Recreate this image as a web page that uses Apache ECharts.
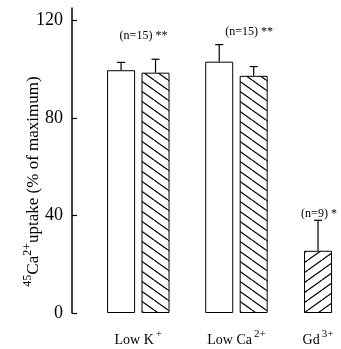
<!DOCTYPE html>
<html>
<head>
<meta charset="utf-8">
<script src="https://cdn.jsdelivr.net/npm/echarts@6/dist/echarts.min.js"></script>
<style>html,body{margin:0;padding:0;background:#fff}#c{width:341px;height:349px}</style>
</head>
<body>
<div id="c"></div>
<script>
// ---- data ----
var categories = ['Low K', 'Low Ca', 'Gd'];
var catSup = ['+', '2+', '3+'];
var controlValues = [99.5, 103, null];
var controlErr = [3.2, 7];
var treatValues = [98.5, 97.2, 25.5];
var treatErr = [5.5, 3.8, 12.5];
var notes = ['(n=15) **', '(n=15) **', '(n=9) *'];
var yTicks = [0, 40, 80, 120];

// ---- layout (axis positions of groups) ----
var groupX = [2.04, 5.06, 7.57];
var pairOff = 0.53;
var noteY = [113.5, 115.2, 40.5];
var noteX = [2.2, 5.45, 7.6];

function hatch(dir) {
  var W = 14, H = 10;
  var c = document.createElement('canvas');
  c.width = W; c.height = H;
  var g = c.getContext('2d');
  g.fillStyle = '#fff'; g.fillRect(0, 0, W, H);
  g.strokeStyle = '#000'; g.lineWidth = 1.2;
  for (var k = -1; k <= 1; k++) {
    g.beginPath();
    if (dir === 'back') { g.moveTo(k * W, 0); g.lineTo(k * W + W, H); }
    else { g.moveTo(k * W, H); g.lineTo(k * W + W, 0); }
    g.stroke();
  }
  return { image: c, repeat: 'repeat' };
}
var backHatch = hatch('back');
var fwdHatch = hatch('fwd');

var barItems = [], errItems = [];
for (var i = 0; i < categories.length; i++) {
  var single = controlValues[i] == null;
  if (!single) {
    barItems.push({ value: [groupX[i] - pairOff, controlValues[i]], itemStyle: { color: '#fff' } });
    errItems.push([groupX[i] - pairOff, controlValues[i], controlErr[i]]);
    barItems.push({ value: [groupX[i] + pairOff, treatValues[i]], itemStyle: { color: backHatch } });
    errItems.push([groupX[i] + pairOff, treatValues[i], treatErr[i]]);
  } else {
    barItems.push({ value: [groupX[i], treatValues[i]], itemStyle: { color: fwdHatch } });
    errItems.push([groupX[i], treatValues[i], treatErr[i]]);
  }
}
var noteItems = notes.map(function (t, i) { return [noteX[i], noteY[i], t]; });

var serif = '"Liberation Serif", "Times New Roman", serif';
var chart = echarts.init(document.getElementById('c'), null, { renderer: 'canvas' });
chart.setOption({
  animation: false,
  backgroundColor: '#fff',
  grid: { left: 72, right: 9, top: 8, bottom: 36, containLabel: false },
  xAxis: {
    type: 'value', min: 0, max: 8,
    axisLine: { show: false }, axisTick: { show: false }, splitLine: { show: false },
    axisLabel: {
      customValues: groupX,
      margin: 18,
      formatter: function (v) {
        var idx = groupX.indexOf(v);
        if (idx < 0) return '';
        return '{t|' + categories[idx] + '}{s|' + catSup[idx] + '}';
      },
      rich: {
        t: { fontFamily: serif, fontSize: 14, color: '#000', verticalAlign: 'bottom', lineHeight: 16 },
        s: { fontFamily: serif, fontSize: 11, color: '#000', verticalAlign: 'bottom', lineHeight: 16, padding: [0, 0, 7, 2] }
      }
    }
  },
  yAxis: {
    type: 'value', min: 0, max: 125,
    name: '{s|45}{b|Ca}{s|2+}{b|uptake (% of maximum)}',
    nameLocation: 'middle', nameGap: 30, nameRotate: 90,
    nameMoveOverlap: false,
    nameTextStyle: {
      padding: [0, 42, 0, 0],
      rich: {
        b: { fontFamily: serif, fontSize: 17, color: '#000', verticalAlign: 'bottom', lineHeight: 20 },
        s: { fontFamily: serif, fontSize: 12, color: '#000', verticalAlign: 'bottom', lineHeight: 20, padding: [0, 0, 8, 0] }
      }
    },
    axisLine: { show: true, lineStyle: { color: '#000', width: 1.5 } },
    axisTick: { show: true, inside: true, length: 5, customValues: yTicks, lineStyle: { color: '#000', width: 1.2 } },
    splitLine: { show: false },
    axisLabel: { customValues: yTicks, margin: 9, fontFamily: serif, fontSize: 18, color: '#000' }
  },
  series: [
    {
      type: 'bar', barWidth: 28, data: barItems,
      itemStyle: { borderColor: '#000', borderWidth: 1 }
    },
    {
      type: 'custom', data: errItems,
      renderItem: function (params, api) {
        var x = api.value(0), y = api.value(1), e = api.value(2);
        var p0 = api.coord([x, y]), p1 = api.coord([x, y + e]);
        var st = { stroke: '#000', lineWidth: 1.2 };
        return {
          type: 'group', children: [
            { type: 'line', shape: { x1: p0[0], y1: p0[1], x2: p1[0], y2: p1[1] }, style: st },
            { type: 'line', shape: { x1: p1[0] - 4, y1: p1[1], x2: p1[0] + 4, y2: p1[1] }, style: st }
          ]
        };
      },
      z: 3
    },
    {
      type: 'custom', data: noteItems,
      renderItem: function (params, api) {
        var p = api.coord([api.value(0), api.value(1)]);
        return {
          type: 'text',
          style: { x: p[0], y: p[1], text: noteItems[params.dataIndex][2], fill: '#000',
            font: '12px ' + serif, align: 'center', verticalAlign: 'middle' }
        };
      }
    }
  ]
});
</script>
</body>
</html>
